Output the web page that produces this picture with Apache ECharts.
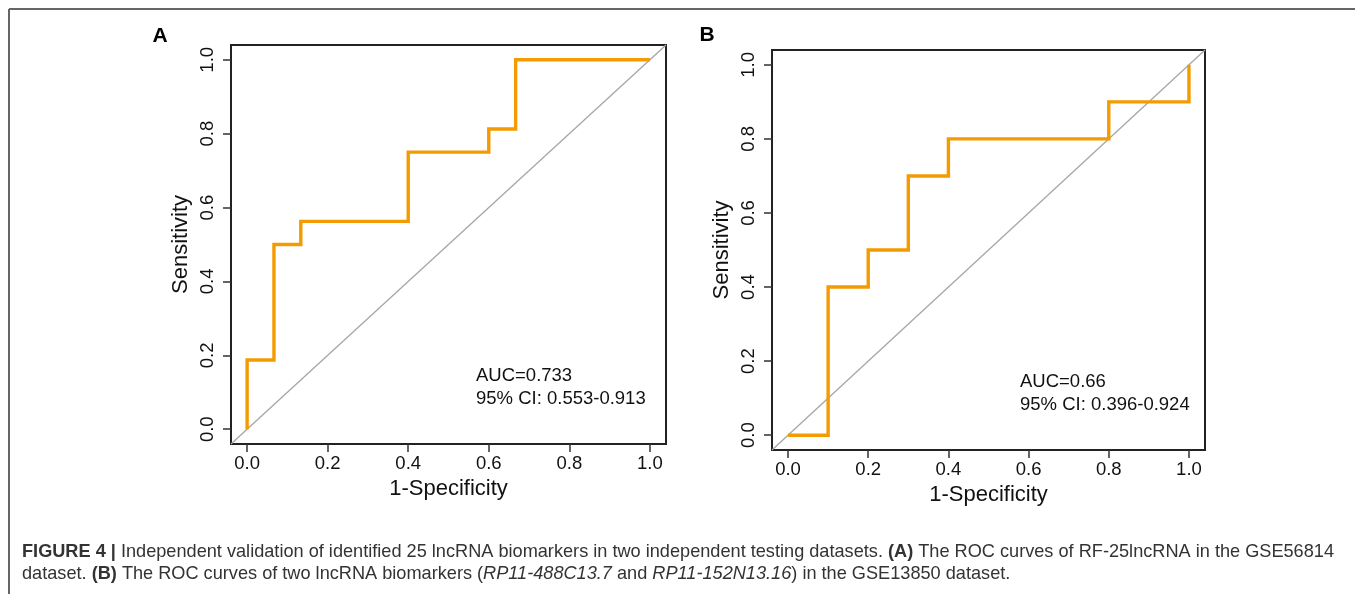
<!DOCTYPE html>
<html>
<head>
<meta charset="utf-8">
<title>Figure 4 - ROC curves</title>
<script src="https://cdn.jsdelivr.net/npm/echarts@6/dist/echarts.min.js"></script>
<style>
  html, body { margin: 0; padding: 0; background: #fff; }
  #chart { width: 1355px; height: 594px; }
</style>
</head>
<body>
<div id="chart"></div>
<script>
// tick values shared by both panels
const ticks = [0, 0.2, 0.4, 0.6, 0.8, 1.0]
const axisPad = 0.04

// panel A: RF-25lncRNA in GSE56814 (ROC corner points, 1-specificity / sensitivity)
const fprA = [0, 0, 0.0667, 0.1333, 0.4, 0.6, 0.6667, 1]
const tprA = [0, 0.1875, 0.5, 0.5625, 0.75, 0.8125, 1, 1]
const aucA = '0.733'
const ciA = '0.553-0.913'

// panel B: two lncRNA biomarkers in GSE13850
const fprB = [0, 0.1, 0.2, 0.3, 0.4, 0.8, 1]
const tprB = [0, 0.4, 0.5, 0.7, 0.8, 0.9, 1]
const aucB = '0.66'
const ciB = '0.396-0.924'

const FONT = '"Liberation Sans", Arial, Helvetica, sans-serif'
const ORANGE = '#F39B00'
const INK = '#111'

const panels = [
  { tag: 'A', box: { left: 231, top: 45, width: 435, height: 399 }, fpr: fprA, tpr: tprA, auc: aucA, ci: ciA, note: [476, 376], tagPos: [160, 36] },
  { tag: 'B', box: { left: 772, top: 50, width: 433, height: 400 }, fpr: fprB, tpr: tprB, auc: aucB, ci: ciB, note: [1020, 382], tagPos: [707, 35] },
]

const grids = []
const xAxes = []
const yAxes = []
const series = []
const graphics = []

panels.forEach((p, i) => {
  grids.push({
    ...p.box,
    show: true,
    borderColor: '#222',
    borderWidth: 2,
    backgroundColor: 'transparent',
    containLabel: false,
    outerBoundsMode: 'none',
  })
  xAxes.push({
    gridIndex: i,
    type: 'value',
    min: -axisPad,
    max: 1 + axisPad,
    name: '1-Specificity',
    nameLocation: 'middle',
    nameGap: 33,
    nameTextStyle: { fontFamily: FONT, fontSize: 22, color: INK },
    axisLine: { show: false, onZero: false },
    axisTick: { show: true, inside: false, length: 8, customValues: ticks, lineStyle: { color: '#333', width: 1.5 } },
    axisLabel: { customValues: ticks, margin: 10, formatter: v => v.toFixed(1), fontFamily: FONT, fontSize: 18.5, color: INK },
    splitLine: { show: false },
  })
  yAxes.push({
    gridIndex: i,
    type: 'value',
    min: -axisPad,
    max: 1 + axisPad,
    name: 'Sensitivity',
    nameLocation: 'middle',
    nameGap: 39,
    nameTextStyle: { fontFamily: FONT, fontSize: 22, color: INK },
    axisLine: { show: false, onZero: false },
    axisTick: { show: true, inside: false, length: 8, customValues: ticks, lineStyle: { color: '#333', width: 1.5 } },
    axisLabel: { customValues: ticks, margin: 14, rotate: 90, formatter: v => v.toFixed(1), fontFamily: FONT, fontSize: 18.5, color: INK },
    splitLine: { show: false },
  })
  // reference diagonal, corner to corner
  series.push({
    type: 'line',
    xAxisIndex: i,
    yAxisIndex: i,
    data: [[-axisPad, -axisPad], [1 + axisPad, 1 + axisPad]],
    symbol: 'none',
    clip: false,
    silent: true,
    lineStyle: { color: '#a6a6a6', width: 1.3 },
    z: 1,
  })
  series.push({
    type: 'line',
    xAxisIndex: i,
    yAxisIndex: i,
    data: p.fpr.map((x, j) => [x, p.tpr[j]]),
    step: 'end',
    symbol: 'none',
    clip: false,
    lineStyle: { color: ORANGE, width: 3.4, cap: 'butt', join: 'miter' },
    z: 2,
  })
  graphics.push({
    type: 'text', x: p.tagPos[0], y: p.tagPos[1],
    style: { text: p.tag, font: 'bold 21px ' + FONT, fill: '#000', align: 'center', verticalAlign: 'middle', textAlign: 'center', textVerticalAlign: 'middle' },
  })
  graphics.push({
    type: 'text', x: p.note[0], y: p.note[1],
    style: { text: 'AUC=' + p.auc, font: '18.5px ' + FONT, fill: INK, align: 'left', verticalAlign: 'middle', textAlign: 'left', textVerticalAlign: 'middle' },
  })
  graphics.push({
    type: 'text', x: p.note[0], y: p.note[1] + 23,
    style: { text: '95% CI: ' + p.ci, font: '18.5px ' + FONT, fill: INK, align: 'left', verticalAlign: 'middle', textAlign: 'left', textVerticalAlign: 'middle' },
  })
})

// figure frame (top and left edges)
graphics.push({ type: 'line', shape: { x1: 9, y1: 9, x2: 1355, y2: 9 }, style: { stroke: '#666', lineWidth: 2 } })
graphics.push({ type: 'line', shape: { x1: 9, y1: 9, x2: 9, y2: 594 }, style: { stroke: '#666', lineWidth: 2 } })

// caption (condensed look: larger size squeezed horizontally to the printed width)
const CAP_FONT = '"Liberation Sans", Arial, sans-serif'
const CAP_SIZE = 19
const capStyles = {
  n: { fontSize: CAP_SIZE, fontFamily: CAP_FONT, fontWeight: 'normal', fontStyle: 'normal' },
  b: { fontSize: CAP_SIZE, fontFamily: CAP_FONT, fontWeight: 'bold', fontStyle: 'normal' },
  i: { fontSize: CAP_SIZE, fontFamily: CAP_FONT, fontWeight: 'normal', fontStyle: 'italic' },
}
const captionLine1 = [
  ['b', 'FIGURE 4 |'],
  ['n', ' Independent validation of identified 25 lncRNA biomarkers in two independent testing datasets. '],
  ['b', '(A)'],
  ['n', ' The ROC curves of RF-25lncRNA in the GSE56814'],
]
const captionLine2 = [
  ['n', 'dataset. '],
  ['b', '(B)'],
  ['n', ' The ROC curves of two lncRNA biomarkers ('],
  ['i', 'RP11-488C13.7'],
  ['n', ' and '],
  ['i', 'RP11-152N13.16'],
  ['n', ') in the GSE13850 dataset.'],
]

const ctx = document.createElement('canvas').getContext('2d')
function segWidth(segs) {
  let w = 0
  segs.forEach(([k, t]) => {
    const s = capStyles[k]
    ctx.font = `${s.fontStyle} ${s.fontWeight} ${s.fontSize}px ${s.fontFamily}`
    w += ctx.measureText(t).width
  })
  return w
}
const capScale = 1312 / segWidth(captionLine1)

function capText(segs) {
  return segs.map(([k, t]) => `{${k}|${t}}`).join('')
}
graphics.push({
  type: 'text', x: 22, y: 552, scaleX: capScale,
  style: { text: capText(captionLine1), rich: capStyles, fill: '#333', verticalAlign: 'middle', textVerticalAlign: 'middle' },
})
graphics.push({
  type: 'text', x: 22, y: 574, scaleX: capScale,
  style: { text: capText(captionLine2), rich: capStyles, fill: '#333', verticalAlign: 'middle', textVerticalAlign: 'middle' },
})

const chart = echarts.init(document.getElementById('chart'))
chart.setOption({
  animation: false,
  backgroundColor: '#fff',
  grid: grids,
  xAxis: xAxes,
  yAxis: yAxes,
  series: series,
  graphic: graphics,
})
</script>
</body>
</html>
